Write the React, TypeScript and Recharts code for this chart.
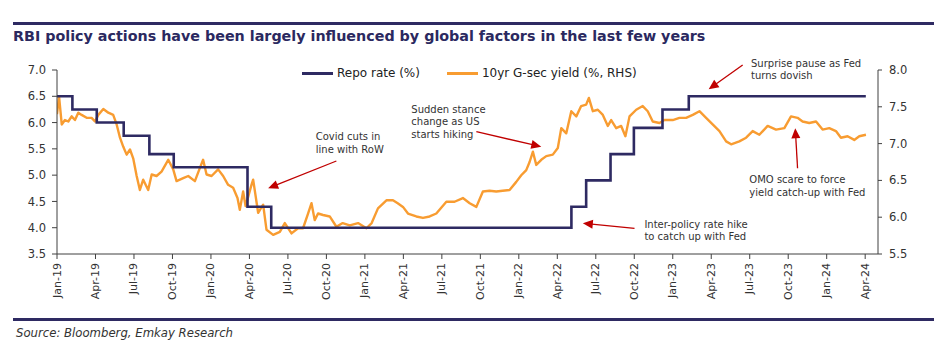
import React from 'react';
import { LineChart, Line, XAxis, YAxis, ReferenceLine, ReferenceDot, Legend } from 'recharts';

const FONT = '"DejaVu Sans", Verdana, sans-serif';
const NAVY = '#2E2A62';
const ORANGE = '#F89C31';
const RED = '#C00000';
const TEXT = '#333333';
const AXIS = '#404040';

const titleText = 'RBI policy actions have been largely influenced by global factors in the last few years';
const sourceText = 'Source: Bloomberg, Emkay Research';

const quarterLabels = [
  'Jan-19', 'Apr-19', 'Jul-19', 'Oct-19', 'Jan-20', 'Apr-20', 'Jul-20', 'Oct-20',
  'Jan-21', 'Apr-21', 'Jul-21', 'Oct-21', 'Jan-22', 'Apr-22', 'Jul-22', 'Oct-22',
  'Jan-23', 'Apr-23', 'Jul-23', 'Oct-23', 'Jan-24', 'Apr-24',
];
const quarterTicks = quarterLabels.map((_, i) => i * 3);

const leftTicks = [3.5, 4.0, 4.5, 5.0, 5.5, 6.0, 6.5, 7.0];
const rightTicks = [5.5, 6.0, 6.5, 7.0, 7.5, 8.0];

// months since Jan-2019
const repoMonths = [0, 1.2, 3.1, 5.2, 7.2, 9.1, 14.85, 16.7, 40.1, 41.25, 43.15, 44.97, 47.2, 49.25, 63.05];
const repoRates = [6.5, 6.25, 6.0, 5.75, 5.4, 5.15, 4.4, 4.0, 4.4, 4.9, 5.4, 5.9, 6.25, 6.5, 6.5];

const yieldMonths = [
  0, 0.16, 0.37, 0.62, 0.88, 1.14, 1.4, 1.66, 1.92, 2.31,
  2.7, 2.96, 3.22, 3.61, 4.0, 4.38, 4.65, 4.91, 5.16, 5.43,
  5.69, 5.94, 6.21, 6.46, 6.72, 7.11, 7.38, 7.76, 8.15, 8.67,
  9.06, 9.32, 9.84, 10.23, 10.75, 11.14, 11.39, 11.66, 12.05, 12.56,
  12.95, 13.34, 13.73, 14.07, 14.25, 14.51, 14.7, 15.16, 15.29, 15.68,
  16.07, 16.33, 16.85, 17.37, 17.76, 18.28, 18.79, 19.18, 19.57, 19.84,
  20.09, 20.35, 20.74, 21.26, 21.78, 22.27, 22.82, 23.47, 24.12, 24.53,
  25.02, 25.68, 26.19, 26.56, 26.97, 27.36, 28.01, 28.53, 29.05, 29.57,
  30.35, 30.99, 31.64, 32.17, 32.69, 33.2, 33.72, 34.24, 34.74, 35.28,
  35.8, 36.19, 36.58, 36.84, 37.1, 37.36, 37.75, 38.14, 38.65, 39.04,
  39.31, 39.7, 40.09, 40.48, 40.86, 41.25, 41.46, 41.77, 42.16, 42.55,
  42.94, 43.2, 43.59, 43.98, 44.31, 44.63, 45.15, 45.66, 46.05, 46.44,
  46.96, 47.35, 48.0, 48.52, 49.04, 49.56, 50.08, 50.6, 51.11, 51.64,
  52.16, 52.55, 53.19, 53.72, 54.23, 54.75, 55.4, 56.05, 56.7, 57.22,
  57.73, 58.12, 58.64, 59.17, 59.68, 60.2, 60.72, 61.11, 61.63, 62.15,
  62.54, 63.06,
];
const yieldValues = [
  7.4, 7.64, 7.26, 7.32, 7.3, 7.37, 7.32, 7.42, 7.39, 7.35,
  7.35, 7.3, 7.39, 7.47, 7.42, 7.39, 7.26, 7.08, 6.96, 6.85,
  6.92, 6.8, 6.56, 6.37, 6.51, 6.37, 6.58, 6.56, 6.62, 6.78,
  6.65, 6.49, 6.53, 6.56, 6.49, 6.67, 6.78, 6.58, 6.56, 6.65,
  6.56, 6.44, 6.4, 6.26, 6.1, 6.35, 6.15, 6.44, 6.51, 6.06,
  6.17, 5.83, 5.76, 5.8, 5.92, 5.78, 5.85, 5.85, 6.05, 6.19,
  5.96, 6.05, 6.03, 6.01, 5.87, 5.92, 5.89, 5.92, 5.85, 5.92,
  6.12, 6.23, 6.23, 6.19, 6.14, 6.05, 6.01, 5.99, 6.01, 6.05,
  6.21, 6.21, 6.26, 6.19, 6.14, 6.35, 6.36, 6.35, 6.36, 6.37,
  6.48, 6.57, 6.64, 6.75, 6.89, 6.71, 6.78, 6.83, 6.85, 6.94,
  7.21, 7.14, 7.44, 7.37, 7.51, 7.53, 7.62, 7.44, 7.46, 7.39,
  7.24, 7.32, 7.21, 7.24, 7.1, 7.37, 7.46, 7.51, 7.44, 7.3,
  7.28, 7.32, 7.32, 7.35, 7.35, 7.39, 7.44, 7.35, 7.26, 7.17,
  7.03, 6.99, 7.03, 7.08, 7.17, 7.12, 7.24, 7.19, 7.21, 7.37,
  7.35, 7.3, 7.28, 7.3, 7.19, 7.21, 7.17, 7.08, 7.1, 7.05,
  7.1, 7.12,
];

// annotations (in chart units: months, left-axis level)
const annotationTexts = [
  ['Covid cuts in', 'line with RoW'],
  ['Sudden stance', 'change as US', 'starts hiking'],
  ['Surprise pause as Fed', 'turns dovish'],
  ['OMO scare to force', 'yield catch-up with Fed'],
  ['Inter-policy rate hike', 'to catch up with Fed'],
];
const annotationTextMonths = [20.17, 27.62, 54.1, 53.97, 45.79];
const annotationTextLevels = [5.726, 6.252, 7.127, 4.908, 4.065];
const arrowFromMonths = [21.78, 32.69, 53.45, 57.73, 45.02];
const arrowFromLevels = [5.269, 5.826, 7.095, 5.13, 3.989];
const arrowToMonths = [16.46, 37.75, 50.8, 57.55, 40.99];
const arrowToLevels = [4.75, 5.541, 6.633, 5.891, 4.084];

const legendItems = [
  { label: 'Repo rate (%)', color: NAVY },
  { label: '10yr G-sec yield (%, RHS)', color: ORANGE },
];

const repoData = repoMonths.map((t, i) => ({ t, v: repoRates[i] }));
const yieldData = yieldMonths.map((t, i) => ({ t, v: yieldValues[i] }));

const XTick = (props: any) => {
  const { x, y, payload } = props;
  const label = quarterLabels[Math.round(payload.value / 3)];
  return (
    <text
      x={x}
      y={y}
      transform={`rotate(-90, ${x}, ${y})`}
      textAnchor="end"
      dominantBaseline="central"
      fontFamily={FONT}
      fontSize={11}
      fill={TEXT}
    >
      {label}
    </text>
  );
};

const ArrowShape = (props: any) => {
  const { x1, y1, x2, y2 } = props;
  const dx = x2 - x1;
  const dy = y2 - y1;
  const len = Math.sqrt(dx * dx + dy * dy) || 1;
  const ux = dx / len;
  const uy = dy / len;
  const head = 10;
  const half = 4.5;
  const bx = x2 - ux * head;
  const by = y2 - uy * head;
  const p1 = `${x2},${y2}`;
  const p2 = `${bx - uy * half},${by + ux * half}`;
  const p3 = `${bx + uy * half},${by - ux * half}`;
  return (
    <g>
      <line x1={x1} y1={y1} x2={bx + ux * 1} y2={by + uy * 1} stroke={RED} strokeWidth={1.3} />
      <polygon points={`${p1} ${p2} ${p3}`} fill={RED} />
    </g>
  );
};

const makeTextShape = (lines: string[]) => (props: any) => {
  const { cx, cy } = props;
  return (
    <text x={cx} y={cy} fontFamily={FONT} fontSize={10} fill={TEXT}>
      {lines.map((ln, i) => (
        <tspan key={i} x={cx} y={cy + i * 12.5} dominantBaseline="central">
          {ln}
        </tspan>
      ))}
    </text>
  );
};

const LegendContent = () => (
  <div style={{ display: 'flex', alignItems: 'center', fontFamily: FONT, fontSize: 12, color: '#222', whiteSpace: 'nowrap' }}>
    {legendItems.map((it, i) => (
      <div key={i} style={{ display: 'flex', alignItems: 'center', marginRight: i === 0 ? 27 : 0 }}>
        <div style={{ width: 31, height: 3, background: it.color, marginRight: 4 }} />
        <span>{it.label}</span>
      </div>
    ))}
  </div>
);

export default function App() {
  return (
    <div style={{ position: 'absolute', left: 0, top: 0, width: 951, height: 350, background: '#fff', overflow: 'hidden' }}>
      <div style={{ position: 'absolute', left: 13, top: 22, width: 921, height: 3, background: NAVY }} />
      <div
        style={{
          position: 'absolute', left: 13, top: 28, height: 17, lineHeight: '17px',
          fontFamily: FONT, fontWeight: 'bold', fontSize: 14.3, color: '#2B2960', whiteSpace: 'nowrap',
        }}
      >
        {titleText}
      </div>
      <div style={{ position: 'absolute', left: 0, top: 0 }}>
        <LineChart width={951} height={350} margin={{ top: 70, right: 33, bottom: 46, left: 0 }}>
          <XAxis
            dataKey="t"
            type="number"
            domain={[0, 64]}
            ticks={quarterTicks}
            interval={0}
            allowDataOverflow
            height={50}
            tickSize={5}
            tickMargin={4}
            stroke={AXIS}
            tick={<XTick />}
          />
          <YAxis
            yAxisId="left"
            orientation="left"
            domain={[3.5, 7]}
            ticks={leftTicks}
            width={57}
            tickSize={5}
            tickMargin={6}
            stroke={AXIS}
            tick={{ fontFamily: FONT, fontSize: 11.5, fill: TEXT }}
            tickFormatter={(v: number) => v.toFixed(1)}
          />
          <YAxis
            yAxisId="right"
            orientation="right"
            domain={[5.5, 8]}
            ticks={rightTicks}
            width={40}
            tickSize={4}
            tickMargin={7}
            stroke={AXIS}
            tick={{ fontFamily: FONT, fontSize: 11.5, fill: TEXT }}
            tickFormatter={(v: number) => v.toFixed(1)}
          />
          <Legend
            layout="horizontal"
            verticalAlign="middle"
            align="center"
            content={<LegendContent />}
            wrapperStyle={{ left: 302, top: 66, width: 'auto', height: 'auto' }}
          />
          <Line
            yAxisId="right"
            data={yieldData}
            dataKey="v"
            type="linear"
            stroke={ORANGE}
            strokeWidth={2.4}
            strokeLinejoin="round"
            dot={false}
            isAnimationActive={false}
          />
          <Line
            yAxisId="left"
            data={repoData}
            dataKey="v"
            type="stepAfter"
            stroke={NAVY}
            strokeWidth={2.6}
            dot={false}
            isAnimationActive={false}
          />
          {annotationTexts.map((_, i) => (
            <ReferenceLine
              key={`a${i}`}
              yAxisId="left"
              ifOverflow="visible"
              segment={[
                { x: arrowFromMonths[i], y: arrowFromLevels[i] },
                { x: arrowToMonths[i], y: arrowToLevels[i] },
              ]}
              shape={ArrowShape}
            />
          ))}
          {annotationTexts.map((lines, i) => (
            <ReferenceDot
              key={`t${i}`}
              yAxisId="left"
              x={annotationTextMonths[i]}
              y={annotationTextLevels[i]}
              r={0}
              ifOverflow="visible"
              shape={makeTextShape(lines)}
            />
          ))}
        </LineChart>
      </div>
      <div style={{ position: 'absolute', left: 13, top: 318, width: 921, height: 3, background: NAVY }} />
      <div
        style={{
          position: 'absolute', left: 16, top: 326, lineHeight: '14px',
          fontFamily: FONT, fontStyle: 'italic', fontSize: 11.7, color: '#333', whiteSpace: 'nowrap',
        }}
      >
        {sourceText}
      </div>
    </div>
  );
}
